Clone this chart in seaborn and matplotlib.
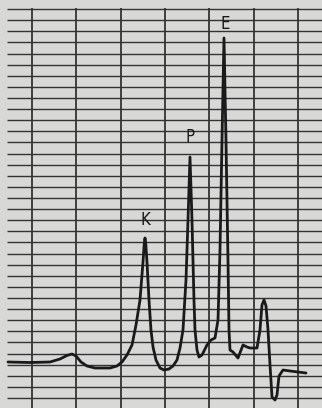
import numpy as np
import pandas as pd
import matplotlib
matplotlib.use("Agg")
import matplotlib.pyplot as plt
import seaborn as sns

# chromatogram trace, in chart-grid divisions
time = [-0.541, -0.045, 0.406, 0.632, 0.790, 0.902, 0.993, 1.105, 1.241, 1.421,
        1.760, 1.917, 2.030, 2.143, 2.256, 2.346, 2.436, 2.504, 2.532, 2.549, 2.566,
        2.594, 2.639, 2.684, 2.730, 2.797, 2.887, 2.978, 3.090, 3.181, 3.271, 3.339,
        3.406, 3.474, 3.519, 3.564, 3.609, 3.654, 3.677, 3.722, 3.767, 3.835,
        3.948, 4.038, 4.128, 4.196, 4.241, 4.286, 4.331, 4.376, 4.421, 4.444,
        4.467, 4.534, 4.647, 4.760, 4.850, 4.918, 5.076, 5.143, 5.188, 5.234,
        5.279, 5.324, 5.369, 5.414, 5.482, 5.527, 5.572, 5.662, 5.820, 6.000,
        6.181]
signal = [3.24, 3.195, 3.24, 3.51, 3.83, 3.96, 3.78, 3.24, 2.88, 2.70,
          2.70, 2.88, 3.24, 3.87, 4.77, 6.57, 8.82, 12.24, 13.90, 14.40, 13.90,
          12.24, 8.82, 6.12, 4.59, 3.42, 2.70, 2.52, 2.61, 2.88, 3.42, 4.50,
          6.12, 10.62, 16.02, 21.69, 16.02, 8.82, 6.12, 4.32, 3.69, 3.87,
          4.77, 5.22, 5.40, 7.02, 13.32, 23.22, 32.40, 23.22, 12.42, 6.12,
          4.32, 4.14, 3.60, 4.77, 4.59, 4.50, 4.50, 6.12, 8.37, 8.82,
          8.28, 6.12, 2.97, 0.09, -0.18, 0.27, 1.98, 2.52, 2.43, 2.34,
          2.25]

peak_labels = ["K", "P", "E"]
peak_time = [2.549, 3.564, 4.354]
peak_label_y = [16.0, 23.5, 33.7]

grid_cols = list(range(0, 7))
grid_rows = list(range(0, 36))

df = pd.DataFrame({"time": time, "signal": signal})

sns.set_theme(style="white")
plt.rcParams["font.family"] = ["DejaVu Sans"]

bg = "#d8d8d6"
fig = plt.figure(figsize=(3.22, 4.08), dpi=100, facecolor=bg)
ax = fig.add_axes([0, 0, 1, 1])
ax.set_facecolor(bg)

ax.hlines(grid_rows, -0.56, 6.7, colors="#333333", linewidth=1.0, zorder=1)
ax.vlines(grid_cols, -1.5, 35.1, colors="#333333", linewidth=1.3, zorder=1)

sns.lineplot(data=df, x="time", y="signal", sort=False, estimator=None,
             color="#1a1a1a", linewidth=2.0, ax=ax, zorder=3)

for lab, t, yy in zip(peak_labels, peak_time, peak_label_y):
    ax.text(t, yy, lab, ha="center", va="center", fontsize=12,
            fontweight="normal", color="#1a1a1a", fontstretch="condensed", zorder=4)

ax.set_xlim(-0.722, 6.542)
ax.set_ylim(-0.9, 35.82)
ax.axis("off")

fig.savefig("out.png", dpi=100, facecolor=bg)
